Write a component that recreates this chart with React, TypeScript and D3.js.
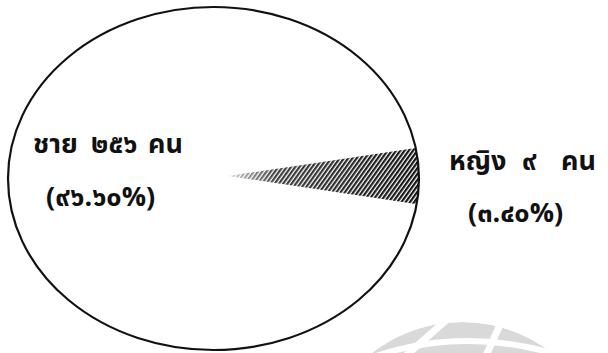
import React from "react";
import * as d3 from "d3";

const categories = ["ชาย", "หญิง"];
const counts = [256, 9];
const unitLabel = "คน";

const W = 608;
const H = 353;

const thaiDigits = "๐๑๒๓๔๕๖๗๘๙";
const toThai = (s: string) => s.replace(/[0-9]/g, (d) => thaiDigits[+d]);

export default function App() {
  const total = d3.sum(counts);
  const cx = 213.5, cy = 178.5, rx = 205.5, ry = 171.5;

  const femaleShare = counts[1] / total;
  const pie = d3
    .pie<number>()
    .sort(null)
    .startAngle(Math.PI / 2 + femaleShare * Math.PI)
    .endAngle(Math.PI / 2 + femaleShare * Math.PI + 2 * Math.PI);
  const arcs = pie(counts);
  const apexX = 228, apexY = 176;
  const arcGen = d3.arc<d3.PieArcDatum<number>>().innerRadius(0).outerRadius(260);

  const pct = counts.map((c) => toThai(d3.format(".2f")((c / total) * 100)) + "%");
  const cnt = counts.map((c) => toThai(String(c)));

  const font = "'Noto Sans Thai', 'Noto Sans', 'DejaVu Sans', sans-serif";

  const gcx = 462, gcy = 468, gr = 146;

  const labels = [
    { xs: [33, 91, 148], y1: 153, x2: 46, y2: 206 },
    { xs: [449, 522, 561], y1: 170, x2: 468, y2: 222 },
  ];

  return (
    <svg width={W} height={H} style={{ position: "absolute", left: 0, top: 0, background: "#fff" }}>
      <defs>
        <pattern id="hatch" width="3" height="3" patternUnits="userSpaceOnUse" patternTransform="rotate(45)">
          <rect width="3" height="3" fill="#fff" />
          <rect width="1.9" height="3" fill="#111" />
        </pattern>
        <clipPath id="ell">
          <ellipse cx={cx} cy={cy} rx={rx} ry={ry} />
        </clipPath>
        <clipPath id="globe">
          <circle cx={gcx} cy={gcy} r={gr} />
        </clipPath>
        <linearGradient id="fade" x1="0" x2="1" y1="0" y2="0">
          <stop offset="0" stopColor="#fff" stopOpacity="0.85" />
          <stop offset="0.25" stopColor="#fff" stopOpacity="0.2" />
          <stop offset="1" stopColor="#fff" stopOpacity="0" />
        </linearGradient>
      </defs>

      {/* watermark */}
      <g clipPath="url(#globe)">
        <circle cx={gcx} cy={gcy} r={gr} fill="#d9d9d9" />
        <path d="M355,364 Q465,318 585,364" fill="none" stroke="#fff" strokeWidth={6} />
        <line x1={451} y1={316} x2={401} y2={360} stroke="#fff" strokeWidth={7} />
        <line x1={504} y1={316} x2={484} y2={360} stroke="#fff" strokeWidth={7} />
      </g>

      {/* female slice */}
      <g clipPath="url(#ell)">
        <g transform={`translate(${apexX},${apexY}) scale(1,1.39)`}>
          <path d={arcGen(arcs[1]) || ""} fill="url(#hatch)" />
        </g>
        <rect x={apexX} y={140} width={190} height={75} fill="url(#fade)" />
      </g>

      <ellipse cx={cx} cy={cy} rx={rx} ry={ry} fill="none" stroke="#111" strokeWidth={2.2} />

      <g fontFamily={font} fontWeight="bold" fontSize={27} fill="#111">
        {labels.map((l, i) => (
          <g key={i}>
            <text x={l.xs[0]} y={l.y1}>{categories[i]}</text>
            <text x={l.xs[1]} y={l.y1}>{cnt[i]}</text>
            <text x={l.xs[2]} y={l.y1}>{unitLabel}</text>
            <text x={l.x2} y={l.y2}>{`(${pct[i]})`}</text>
          </g>
        ))}
      </g>
    </svg>
  );
}
